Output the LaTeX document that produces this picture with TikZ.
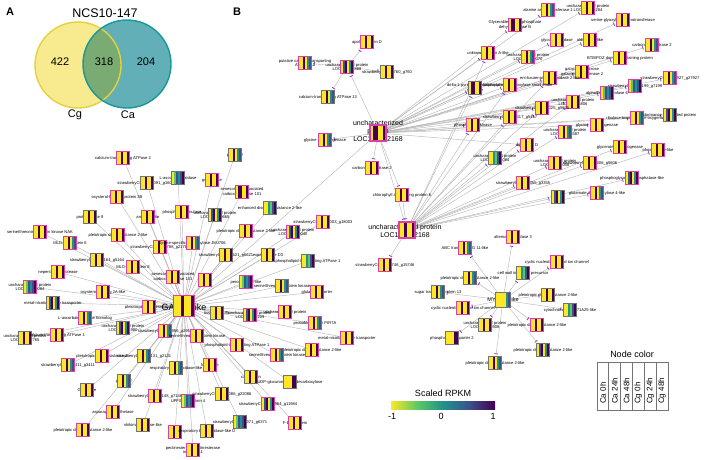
\documentclass[tikz,border=0pt]{standalone}
\usepackage{fontspec}
\setmainfont{Liberation Sans}
\usetikzlibrary{calc,arrows.meta}
\pgfdeclarelayer{bg}
\pgfsetlayers{bg,main}
\definecolor{vY}{HTML}{FDE725}
\definecolor{vL}{HTML}{B5DE2B}
\definecolor{vG}{HTML}{5EC962}
\definecolor{vT}{HTML}{21918C}
\definecolor{vB}{HTML}{3B528B}
\definecolor{vP}{HTML}{440154}
\definecolor{nodepink}{HTML}{E03CAA}
\definecolor{teeP}{HTML}{8A3FB8}
\definecolor{vennY}{HTML}{F8EA8E}
\definecolor{vennYb}{HTML}{E4D23C}
\definecolor{vennT}{HTML}{62AFB8}
\definecolor{vennTb}{HTML}{16999A}
\definecolor{vennO}{HTML}{7AAB72}
\newcommand\stp[2]{\fill[#2] let \p1=(path picture bounding box.south west), \p2=(path picture bounding box.north east) in ({\x1+#1*(\x2-\x1)/6},\y1) rectangle ({\x1+(#1+1)*(\x2-\x1)/6},\y2);}
\newcommand\gnode[5]{\node[lbl] at (#2,#3) {#5};\node[#4] (#1) at (#2,#3) {};}
\tikzset{
  stripes/.style n args={6}{path picture={\stp{0}{#1}\stp{1}{#2}\stp{2}{#3}\stp{3}{#4}\stp{4}{#5}\stp{5}{#6}}},
  pa/.style={stripes={vY}{vY}{vP}{vY}{vY}{vP}},
  pb/.style={stripes={vY}{vY}{vP}{vY}{vT}{vB}},
  pc/.style={stripes={vY}{vB}{vP}{vY}{vT}{vP}},
  pd/.style={stripes={vY}{vY}{vY}{vY}{vP}{vP}},
  pe/.style={stripes={vY}{vG}{vB}{vT}{vB}{vP}},
  pf/.style={stripes={vY}{vY}{vT}{vG}{vB}{vP}},
  pg/.style={stripes={vY}{vP}{vP}{vY}{vY}{vP}},
  pk/.style={draw=nodepink, line width=1.3pt, minimum size=12.5pt, inner sep=0pt},
  gr/.style={draw=black!55, line width=0.6pt, minimum size=13pt, inner sep=0pt},
  lbl/.style={font=\fontsize{4.1}{4.6}\selectfont, inner sep=0pt, align=center, text=black},
  edge/.style={draw=black!28, line width=0.45pt},
  tee/.style={-{Bar[width=3.5pt,line width=0.8pt,color=teeP]}, shorten >=2pt},
}
\begin{document}
\begin{tikzpicture}[x=1pt,y=-1pt]
\useasboundingbox (0,0) rectangle (708,459);
% ---------------- Panel A ----------------
\node[font=\fontsize{11}{13}\selectfont\bfseries] (labA) at (10,12) {A};
\node[font=\fontsize{12.5}{14}\selectfont] (vtitle) at (105,13) {NCS10-147};
\fill[vennY] (78,65) circle (43);
\fill[vennT] (127,64) circle (44);
\begin{scope}
  \clip (78,65) circle (43);
  \fill[vennO] (127,64) circle (44);
\end{scope}
\draw[vennYb, line width=1.4pt] (78,65) circle (43);
\draw[vennTb, line width=1.4pt] (127,64) circle (44);
\node[font=\fontsize{11}{13}\selectfont] (n422) at (60,62) {422};
\node[font=\fontsize{11}{13}\selectfont] (n318) at (104,62) {318};
\node[font=\fontsize{11}{13}\selectfont] (n204) at (146,62) {204};
\node[font=\fontsize{11}{13}\selectfont] (nCg) at (75,115) {Cg};
\node[font=\fontsize{11}{13}\selectfont] (nCa) at (128,115) {Ca};
% ---------------- Panel B ----------------
\node[font=\fontsize{11}{13}\selectfont\bfseries] (labB) at (237,12) {B};
% ----- GATA5 network -----
\node[font=\fontsize{9}{10}\selectfont] at (184,307) {GATA5-like};
\node[draw=nodepink, line width=1.4pt, minimum size=21pt, inner sep=0pt, pa] (G) at (184,306) {};
\gnode{L1}{123}{158}{pk,pa}{calcium-transporting ATPase 2}
\gnode{L2}{235}{155}{gr,pb}{patellin 2}
\gnode{L3}{147}{183}{gr,pa}{strawberryCLC\_c16091\_g16091}
\gnode{L4}{178}{178}{gr,pe}{L-ascorbate oxidase}
\gnode{L5}{212}{180}{pk,pa}{germin-like}
\gnode{L6}{242}{192}{pk,pg}{senescence-associated\\carboxylesterase 101}
\gnode{L7}{117}{197}{pk,pa}{oxysterol-binding protein 3B}
\gnode{L8}{90}{217}{gr,pa}{protease-like 9}
\gnode{L9}{148}{217}{pk,pa}{amidase-like}
\gnode{L10}{182}{212}{pk,pa}{phosphoglucomutase}
\gnode{L11}{215}{215}{gr,pc}{uncharacterized protein\\LOC101300665}
\gnode{L12}{270}{208}{gr,pf}{enhanced disease resistance 2-like}
\gnode{L13}{40}{232}{pk,pa}{serine/threonine-protein kinase NAK}
\gnode{L14}{70}{243}{pk,pb}{MLO-like protein 6}
\gnode{L15}{118}{235}{pk,pa}{pleiotropic drug resistance 2-like}
\gnode{L16}{160}{247}{pk,pa}{strawberryCLC\_c21788\_g21788}
\gnode{L17}{193}{243}{pk,pb}{lysine-specific demethylase JMJ706}
\gnode{L18}{246}{231}{pk,pa}{pleiotropic drug resistance 2-like}
\gnode{L19}{293}{232}{pk,pc}{uncharacterized protein\\LOC101300040}
\gnode{L20}{323}{222}{pk,pa}{strawberryCLC\_c18003\_g18003}
\gnode{L21}{97}{260}{gr,pa}{strawberryCLC\_c5164\_g5164}
\gnode{L22}{133}{267}{pk,pa}{MLO-like protein 8}
\gnode{L23}{226}{255}{gr,pa}{strawberryCLC\_c6621\_g6621}
\gnode{L24}{268}{255}{gr,pa}{expansin-like D3}
\gnode{L25}{308}{261}{gr,pf}{phospholipid-transporting ATPase 1}
\gnode{L26}{58}{272}{pk,pa}{nepenthesin protease}
\gnode{L27}{173}{277}{pk,pa}{senescence-associated\\carboxylesterase 101}
\gnode{L28}{205}{280}{pk,pa}{}
\gnode{L29}{246}{282}{pk,pe}{peroxidase 2-like}
\gnode{L30}{282}{286}{gr,pb}{serine/threonine-protein kinase}
\gnode{L31}{317}{292}{pk,pa}{glutamate carrier}
\gnode{L32}{30}{287}{pk,pe}{uncharacterized protein\\LOC101300084}
\gnode{L33}{103}{292}{pk,pa}{oxysterol-binding 2A-like}
\gnode{L34}{53}{303}{gr,pc}{metal-nicotianamine transporter}
\gnode{L35}{149}{307}{pk,pa}{pleiotropic drug resistance}
\gnode{L36}{85}{318}{pk,pb}{L-ascorbate oxidase homolog}
\gnode{L37}{217}{313}{gr,pa}{tissue-specific}
\gnode{L38}{250}{315}{pk,pc}{uncharacterized protein\\LOC101302209}
\gnode{L39}{285}{312}{pk,pa}{uncharacterized protein}
\gnode{L40}{315}{323}{pk,pb}{probable protein PIR7A}
\gnode{L41}{347}{338}{pk,pa}{metal-nicotianamine transporter}
\gnode{L42}{25}{338}{gr,pa}{uncharacterized protein\\LOC101307765}
\gnode{L43}{57}{335}{pk,pa}{calcium-transporting ATPase 1}
\gnode{L44}{123}{328}{gr,pc}{uncharacterized protein\\LOC101291980}
\gnode{L45}{165}{331}{pk,pb}{strawberryCLC\_c2956\_g2956}
\gnode{L46}{197}{336}{pk,pa}{serine/threonine-protein kinase}
\gnode{L47}{237}{345}{pk,pa}{phospholipid-transporting ATPase 1}
\gnode{L48}{312}{350}{pk,pa}{pleiotropic drug resistance 2-like}
\gnode{L49}{277}{355}{pk,pb}{serine/threonine-protein kinase}
\gnode{L50}{102}{356}{pk,pa}{pleiotropic drug resistance 2}
\gnode{L51}{144}{356}{gr,pb}{strawberryCLC\_c2131\_g2131}
\gnode{L52}{68}{365}{pk,pb}{strawberryCLC\_c3411\_g3411}
\gnode{L53}{176}{368}{gr,pb}{respiratory burst oxidase-like}
\gnode{L54}{210}{365}{pk,pa}{lectin-like}
\gnode{L55}{251}{377}{gr,pa}{calmodulin}
\gnode{L56}{290}{382}{gr,pd}{UDP-glucuronic acid decarboxylase}
\gnode{L57}{124}{381}{gr,pb}{patatin 2}
\gnode{L58}{87}{390}{gr,pa}{GDSL-like}
\gnode{L59}{155}{396}{pk,pa}{strawberryCLC\_c7148\_g7148}
\gnode{L60}{188}{401}{pk,pe}{UPF0496 protein 4}
\gnode{L61}{222}{394}{gr,pa}{strawberryCLC\_c22086\_g22086}
\gnode{L62}{268}{404}{pk,pc}{strawberryCLC\_c11984\_g11984}
\gnode{L63}{113}{412}{pk,pa}{asparagine synthetase}
\gnode{L64}{240}{422}{gr,pe}{strawberryCLC\_c6371\_g6371}
\gnode{L65}{295}{423}{pk,pa}{F-box protein}
\gnode{L66}{143}{425}{gr,pa}{shikimate kinase-like}
\gnode{L67}{83}{430}{pk,pa}{pleiotropic drug resistance 2-like}
\gnode{L68}{175}{432}{pk,pa}{}
\gnode{L69}{207}{431}{gr,pa}{respiratory burst oxidase-like D}
\gnode{L70}{193}{450}{pk,pa}{pectinesterase/pectinesterase\\inhibitor 41}
% ----- hub 1 -----
\node[font=\fontsize{7}{8.2}\selectfont, align=center] at (378,131) {uncharacterized\\protein\\LOC101312168};
\node[draw=nodepink, line width=1.4pt, minimum size=16pt, inner sep=0pt, pg] (H1) at (378,133) {};
\gnode{U1}{367}{42}{pk,pa}{apolipoprotein D}
\gnode{U2}{305}{63}{pk,pb}{putative calcium-transporting\\ATPase 12}
\gnode{U3}{347}{67}{pk,pc}{uncharacterized protein\\LOC101296868}
\gnode{U4}{387}{72}{gr,pa}{strawberryCLC\_c760\_g760}
\gnode{U5}{328}{97}{gr,pb}{calcium-transporting ATPase 13}
\gnode{U6}{325}{140}{pk,pb}{glycine dehydrogenase}
\gnode{U7}{372}{168}{pk,pa}{carbonic anhydrase 2}
\gnode{U8}{402}{195}{pk,pa}{chlorophyll a-b binding protein 6}
\node[font=\fontsize{7}{8}\selectfont, align=center] at (405,231) {uncharacterized protein\\LOC101312168};
\node[draw=nodepink, line width=1.4pt, minimum size=16pt, inner sep=0pt, pa] (H2) at (407,230) {};
\gnode{U9}{385}{265}{pk,pa}{strawberryCLC\_c15746\_g15746}
% ----- right cluster -----
\gnode{R1}{548}{10}{pk,pb}{alanine aminotransferase 1}
\gnode{R2}{588}{8}{pk,pa}{uncharacterized protein\\LOC101296284}
\gnode{R3}{623}{20}{pk,pa}{serine-glyoxylate aminotransferase}
\gnode{R4}{515}{25}{pk,pg}{Glyceraldehyde-3-phosphate\\dehydrogenase B}
\gnode{R5}{557}{40}{pk,pa}{glycolate oxidase}
\gnode{R6}{590}{40}{pk,pa}{aldolase 4-like}
\gnode{R7}{652}{45}{pk,pb}{carbonic anhydrase 2}
\gnode{R8}{488}{53}{pk,pa}{unknown protein A-like}
\gnode{R9}{528}{57}{pk,pb}{uncharacterized protein\\LOC101300070}
\gnode{R10}{620}{58}{pk,pa}{BTB/POZ domain-containing protein}
\gnode{R11}{582}{72}{pk,pa}{galactinol--sucrose\\galactosyltransferase 2}
\gnode{R12}{550}{78}{pk,pa}{ent-kaurenoic acid oxidase 2-like}
\gnode{R13}{670}{78}{pk,pb}{strawberryCLC\_c27927\_g27927}
\gnode{R14}{635}{86}{pk,pe}{strawberryCLC\_c7199\_g7199}
\gnode{R15}{510}{85}{pk,pa}{ribulose bisphosphate carboxylase small chain}
\gnode{R16}{475}{88}{gr,pg}{delta-1-pyrroline-5-carboxylate\\synthase}
\gnode{R17}{607}{93}{pk,pe}{alpha/beta-hydrolase 6}
\gnode{R18}{573}{102}{pk,pa}{uncharacterized protein\\LOC101295806}
\gnode{R19}{542}{108}{pk,pa}{strawberryCLC\_c5025\_g5025}
\gnode{R20}{510}{117}{pk,pa}{strawberryCLC\_c5417\_g5417}
\gnode{R21}{473}{125}{pk,pa}{phosphoribulokinase}
\gnode{R22}{597}{125}{pk,pa}{glycine dehydrogenase}
\gnode{R23}{637}{118}{pk,pb}{ribulose-bisphosphate oxygenase}
\gnode{R24}{670}{115}{gr,pc}{dormancy-associated protein}
\gnode{R25}{565}{132}{pk,pb}{uncharacterized protein\\LOC101298587}
\gnode{R26}{527}{145}{pk,pa}{aquaporin D}
\gnode{R27}{620}{147}{pk,pa}{glycerate dehydrogenase}
\gnode{R28}{658}{150}{pk,pa}{phosphatase-like}
\gnode{R29}{495}{158}{gr,pf}{uncharacterized protein\\LOC101291084}
\gnode{R30}{555}{163}{pk,pa}{uncharacterized protein\\LOC101294008}
\gnode{R31}{590}{163}{pk,pa}{strawberryCLC\_c5606\_g5606}
\gnode{R32}{632}{178}{pk,pc}{phosphoglycolate phosphatase-like}
\gnode{R33}{523}{183}{pk,pa}{strawberryCLC\_c3355\_g3355}
\gnode{R34}{558}{197}{gr,pc}{CP12}
\gnode{R35}{597}{193}{pk,pb}{glutamate decarboxylase 4-like}
% ----- MYB cluster -----
\node[font=\fontsize{5.5}{6}\selectfont] at (503,300) {MYB108-like};
\node[draw=black!55, line width=0.6pt, minimum size=15pt, inner sep=0pt, stripes={vY}{vY}{vY}{vY}{vT}{vB}] (M) at (503,300) {};
\gnode{M1}{513}{237}{pk,pa}{alternative oxidase 3}
\gnode{M2}{465}{248}{pk,pb}{ABC transporter G 11-like}
\gnode{M3}{557}{262}{pk,pa}{cyclic nucleotide-gated ion channel}
\gnode{M4}{470}{278}{gr,pb}{pleiotropic drug resistance 2-like}
\gnode{M5}{523}{273}{gr,pf}{cell wall invertase precursor}
\gnode{M6}{438}{292}{gr,pb}{sugar transport protein 13}
\gnode{M7}{548}{295}{gr,pa}{pleiotropic drug resistance 2-like}
\gnode{M8}{463}{308}{pk,pa}{cyclic nucleotide-gated ion channel}
\gnode{M9}{570}{310}{gr,pf}{cytochrome P450 71A25-like}
\gnode{M10}{537}{325}{pk,pa}{pleiotropic drug resistance 2-like}
\gnode{M11}{485}{325}{gr,pa}{uncharacterized protein\\LOC101303908}
\gnode{M12}{452}{338}{gr,pd}{phosphate transporter 2}
\gnode{M13}{543}{350}{gr,pc}{pleiotropic drug resistance 2-like}
\gnode{M14}{495}{363}{gr,pb}{pleiotropic drug resistance 2-like}
% ----- edges -----
\begin{pgfonlayer}{bg}
\foreach \i in {1,...,70}{\draw[edge] (G) -- (L\i);}
\draw[edge] (G) -- (H1);
\foreach \t in {U3,U6,U7,U8,H2}{\draw[edge,tee] (H1) -- (\t);}
\foreach \t in {U1,U2,U4,U5}{\draw[edge,tee] (U3) -- (\t);}
\draw[edge,tee] (U8) -- (H2);
\draw[edge,tee] (H2) -- (U9);
\foreach \i in {1,...,24,26}{\draw[edge,tee] (H1) -- (R\i);}
\foreach \i in {8,12,15,16,18,19,20,21,25,26,27,28,29,30,31,32,33,34,35}{\draw[edge,tee] (H2) -- (R\i);}
\foreach \i in {1,...,14}{\draw[edge,tee] (M) -- (M\i);}
\end{pgfonlayer}
% ----- legends -----
\node[font=\fontsize{9}{10}\selectfont] (rpkm) at (443,393) {Scaled RPKM};
\shade[left color=vY, right color=vG] (391,401) rectangle (417,409);
\shade[left color=vG, right color=vT] (417,401) rectangle (443,409);
\shade[left color=vT, right color=vB] (443,401) rectangle (469,409);
\shade[left color=vB, right color=vP] (469,401) rectangle (495,409);
\node[font=\fontsize{9}{10}\selectfont] (m1) at (392,416) {-1};
\node[font=\fontsize{9}{10}\selectfont] (z0) at (441,416) {0};
\node[font=\fontsize{9}{10}\selectfont] (p1) at (493,416) {1};
\node[font=\fontsize{9}{10}\selectfont] (ncol) at (632,354) {Node color};
\draw[black!55, line width=1pt] (597,362) rectangle (668,410);
\foreach \k in {1,...,5}{\draw[black!55, line width=1pt] ({597+\k*71/6},362) -- ({597+\k*71/6},410);}
\foreach \k/\t in {0/Ca 0h,1/Ca 24h,2/Ca 48h,3/Cg 0h,4/Cg 24h,5/Cg 48h}{
  \node[font=\fontsize{8}{9}\selectfont, rotate=90, anchor=west, inner sep=0pt] at ({597+(\k+0.5)*71/6},404) {\t};}
\end{tikzpicture}
\end{document}
